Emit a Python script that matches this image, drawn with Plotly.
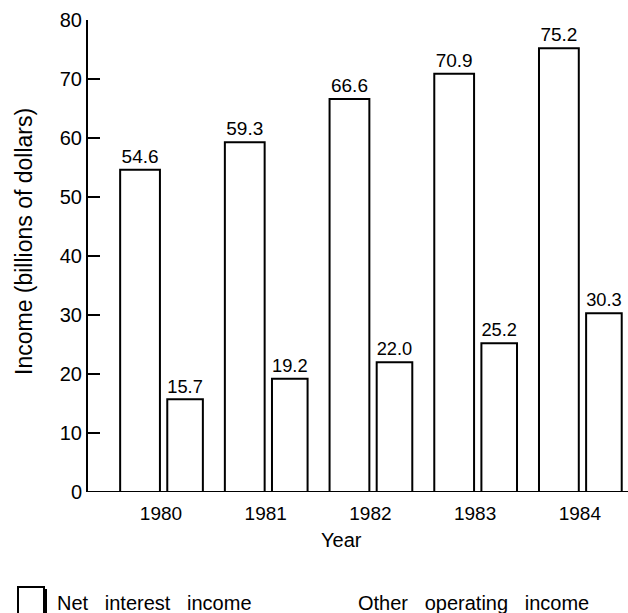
import plotly.graph_objects as go

years = ["1980", "1981", "1982", "1983", "1984"]
net_interest = [54.6, 59.3, 66.6, 70.9, 75.2]
other_operating = [15.7, 19.2, 22.0, 25.2, 30.3]
y_ticks = [0, 10, 20, 30, 40, 50, 60, 70, 80]

FONT = "Liberation Sans, Arial, Helvetica, sans-serif"
W, H = 628, 613
ML, MR, MT, MB = 88, 0, 20, 121
PW, PH = W - ML - MR, H - MT - MB

xs = list(range(len(years)))

fig = go.Figure()
fig.add_trace(go.Bar(
    x=xs, y=net_interest, name="Net interest income",
    width=0.38, offset=-0.39,
    marker=dict(color="white", line=dict(color="black", width=2)),
    text=[f"{v:.1f}" for v in net_interest], textposition="outside",
    textfont=dict(family=FONT, size=19, color="black"), cliponaxis=False,
))
fig.add_trace(go.Bar(
    x=xs, y=other_operating, name="Other operating income",
    width=0.34, offset=0.06,
    marker=dict(color="white", line=dict(color="black", width=2)),
    text=[f"{v:.1f}" for v in other_operating], textposition="outside",
    textfont=dict(family=FONT, size=19, color="black"), cliponaxis=False,
))

def px_x(p):
    return (p - ML) / PW

def px_y(p):
    return (MT + PH - p) / PH

SP = "&nbsp;&nbsp;&nbsp;"

fig.update_layout(
    width=W, height=H,
    margin=dict(l=ML, r=MR, t=MT, b=MB),
    paper_bgcolor="white", plot_bgcolor="white",
    showlegend=False,
    font=dict(family=FONT, size=19, color="black"),
    xaxis=dict(
        range=[-0.697, 4.46], tickvals=xs, ticktext=years,
        showgrid=False, zeroline=False, showline=False, ticks="",
        ticklabelstandoff=8,
        tickfont=dict(family=FONT, size=19, color="black"),
    ),
    yaxis=dict(
        range=[0, 80], tickvals=y_ticks, showgrid=False, zeroline=False,
        showline=True, linecolor="black", linewidth=2,
        ticks="inside", ticklen=12, tickwidth=2, tickcolor="black",
        tickfont=dict(family=FONT, size=20, color="black"),
    ),
    annotations=[
        dict(text="Income (billions of dollars)", textangle=-90,
             xref="paper", yref="paper", x=px_x(24), y=px_y(242),
             xanchor="center", yanchor="middle",
             showarrow=False, font=dict(family=FONT, size=23)),
        dict(text="Year", xref="paper", yref="paper", x=px_x(341), y=px_y(540),
             xanchor="center", yanchor="middle",
             showarrow=False, font=dict(family=FONT, size=20)),
        dict(text="Net" + SP + "interest" + SP + "income", xref="paper", yref="paper",
             x=px_x(55), y=px_y(603), xanchor="left", yanchor="middle", showarrow=False,
             font=dict(family=FONT, size=20)),
        dict(text="Other" + SP + "operating" + SP + "income", xref="paper", yref="paper",
             x=px_x(356), y=px_y(603), xanchor="left", yanchor="middle", showarrow=False,
             font=dict(family=FONT, size=20)),
    ],
    shapes=[
        dict(type="rect", xref="paper", yref="paper",
             x0=px_x(18), x1=px_x(44), y0=px_y(616), y1=px_y(587),
             line=dict(color="black", width=2), fillcolor="white"),
        dict(type="line", xref="paper", yref="paper",
             x0=px_x(45), x1=px_x(45), y0=px_y(616), y1=px_y(589),
             line=dict(color="black", width=4)),
        dict(type="line", xref="paper", yref="y",
             x0=0, x1=1, y0=0, y1=0,
             line=dict(color="black", width=2)),
    ],
)

fig.write_html("out.html", config={"displayModeBar": False},
               post_script="document.body.style.margin='0';")
